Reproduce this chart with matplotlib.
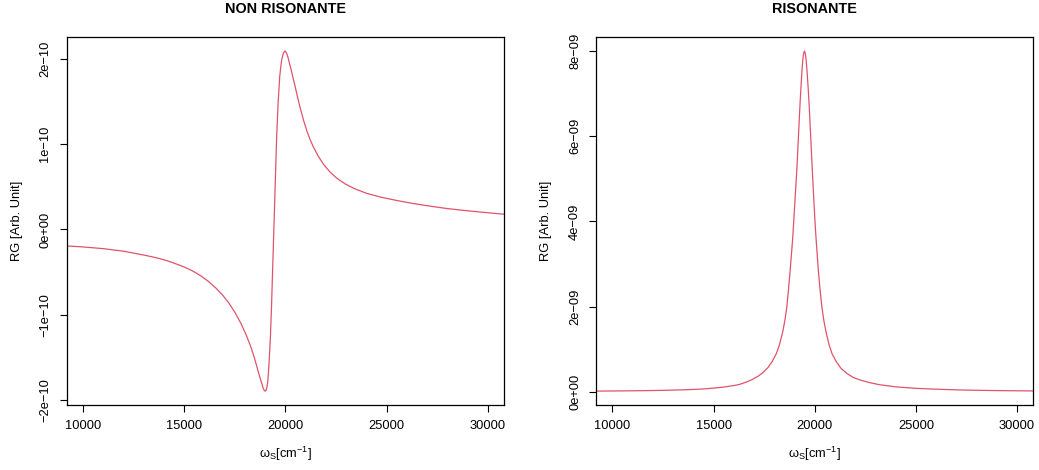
import numpy as np
import matplotlib
matplotlib.use('Agg')
import matplotlib.pyplot as plt

plt.rcParams['font.family'] = ['Liberation Sans', 'DejaVu Sans']
plt.rcParams['mathtext.fontset'] = 'custom'
plt.rcParams['mathtext.rm'] = 'Liberation Sans'
plt.rcParams['mathtext.it'] = 'Liberation Sans'

# non resonant signal, RG in units of 1e-10
nr_ws = [9174, 10000, 11000, 12000, 13000, 13500, 14000, 14500, 15000, 15400,
         15800, 16200, 16600, 16900, 17200, 17500, 17800, 18050, 18300, 18500,
         18650, 18800, 18900, 18960, 19000, 19040, 19080, 19130, 19170, 19210,
         19260, 19320, 19370, 19420, 19470, 19520, 19570, 19640, 19720, 19770,
         19820, 19900, 19985, 20060, 20130, 20200, 20280, 20380, 20490, 20610,
         20740, 20900, 21070, 21230, 21400, 21650, 21900, 22200, 22550, 22950,
         23400, 24000, 24700, 25500, 26300, 27100, 28000, 28800, 29600, 30830]
nr_rg = [-0.193, -0.205, -0.225, -0.255, -0.30, -0.325, -0.355, -0.395, -0.44, -0.485,
         -0.54, -0.61, -0.695, -0.77, -0.86, -0.97, -1.10, -1.23, -1.38, -1.53,
         -1.66, -1.78, -1.86, -1.89, -1.897, -1.89, -1.86, -1.79, -1.66, -1.50,
         -1.27, -0.88, -0.48, -0.09, 0.30, 0.69, 1.085, 1.476, 1.79, 1.90,
         1.99, 2.07, 2.095, 2.07, 2.02, 1.95, 1.88, 1.78, 1.67, 1.545,
         1.42, 1.28, 1.15, 1.05, 0.96, 0.85, 0.76, 0.675, 0.60, 0.535,
         0.48, 0.425, 0.38, 0.34, 0.305, 0.275, 0.245, 0.224, 0.205, 0.178]

# resonant signal, RG in units of 1e-9
r_ws = [9190, 10500, 11500, 12500, 13500, 14300, 15000, 15500, 16000, 16300,
        16600, 16900, 17200, 17450, 17700, 17900, 18100, 18250, 18420, 18530,
        18620, 18700, 18780, 18850, 18910, 18960, 19010, 19060, 19110, 19150,
        19190, 19230, 19270, 19320, 19360, 19400, 19440, 19490, 19540, 19580,
        19620, 19670, 19720, 19760, 19800, 19840, 19880, 19920, 19965, 20010,
        20060, 20120, 20180, 20260, 20350, 20450, 20560, 20700, 20850, 21050,
        21300, 21600, 21900, 22240, 22700, 23200, 24000, 25000, 26000, 27300,
        29000, 30800]
r_rg = [0.02, 0.025, 0.03, 0.038, 0.05, 0.065, 0.09, 0.115, 0.15, 0.18,
        0.23, 0.29, 0.37, 0.46, 0.58, 0.72, 0.90, 1.10, 1.42, 1.70,
        2.00, 2.40, 2.83, 3.25, 3.62, 4.00, 4.40, 4.80, 5.19, 5.58,
        5.97, 6.36, 6.75, 7.17, 7.50, 7.75, 7.92, 8.00, 7.92, 7.75,
        7.50, 7.15, 6.75, 6.36, 5.97, 5.58, 5.19, 4.80, 4.40, 4.00,
        3.62, 3.22, 2.83, 2.40, 2.00, 1.67, 1.40, 1.12, 0.90, 0.72,
        0.55, 0.43, 0.34, 0.28, 0.22, 0.17, 0.12, 0.085, 0.065, 0.045,
        0.032, 0.024]

x_ticks = [10000, 15000, 20000, 25000, 30000]
nr_ticks = [-2e-10, -1e-10, 0, 1e-10, 2e-10]
nr_labels = ['\u22122e\u221210', '\u22121e\u221210', '0e+00', '1e\u221210', '2e\u221210']
r_ticks = [0, 2e-9, 4e-9, 6e-9, 8e-9]
r_labels = ['0e+00', '2e\u221209', '4e\u221209', '6e\u221209', '8e\u221209']

col = '#DF536B'


def r_panel(ax, x, y, title, yticks, ylabels):
    ax.plot(x, y, color=col, lw=0.9)
    ax.set_xlim(9200, 30800)
    lo, hi = min(y), max(y)
    pad = 0.04 * (hi - lo)
    ax.set_ylim(lo - pad, hi + pad)
    ax.set_xticks(x_ticks)
    ax.set_xticklabels([str(t) for t in x_ticks])
    ax.set_yticks(yticks)
    ax.set_yticklabels(ylabels, rotation=90, va='center')
    ax.tick_params(direction='out', length=5, width=0.8, labelsize=9.3, pad=6)
    for s in ax.spines.values():
        s.set_linewidth(0.9)
    ax.set_title(title, fontsize=10.4, fontweight='bold', pad=17.5)
    ax.set_xlabel(r'$\mathregular{\omega_S[cm^{-1}]}$', fontsize=9.3, labelpad=9)
    ax.set_ylabel('RG [Arb. Unit]', fontsize=9.3, labelpad=12)


fig = plt.figure(figsize=(10.39, 4.70), dpi=100)
ax1 = fig.add_axes([0.0642, 0.1389, 0.4209, 0.7817])
ax2 = fig.add_axes([0.5739, 0.1389, 0.4206, 0.7817])

r_panel(ax1, nr_ws, np.array(nr_rg) * 1e-10, 'NON RISONANTE', nr_ticks, nr_labels)
r_panel(ax2, r_ws, np.array(r_rg) * 1e-9, 'RISONANTE', r_ticks, r_labels)

fig.savefig('out.png', dpi=100)
